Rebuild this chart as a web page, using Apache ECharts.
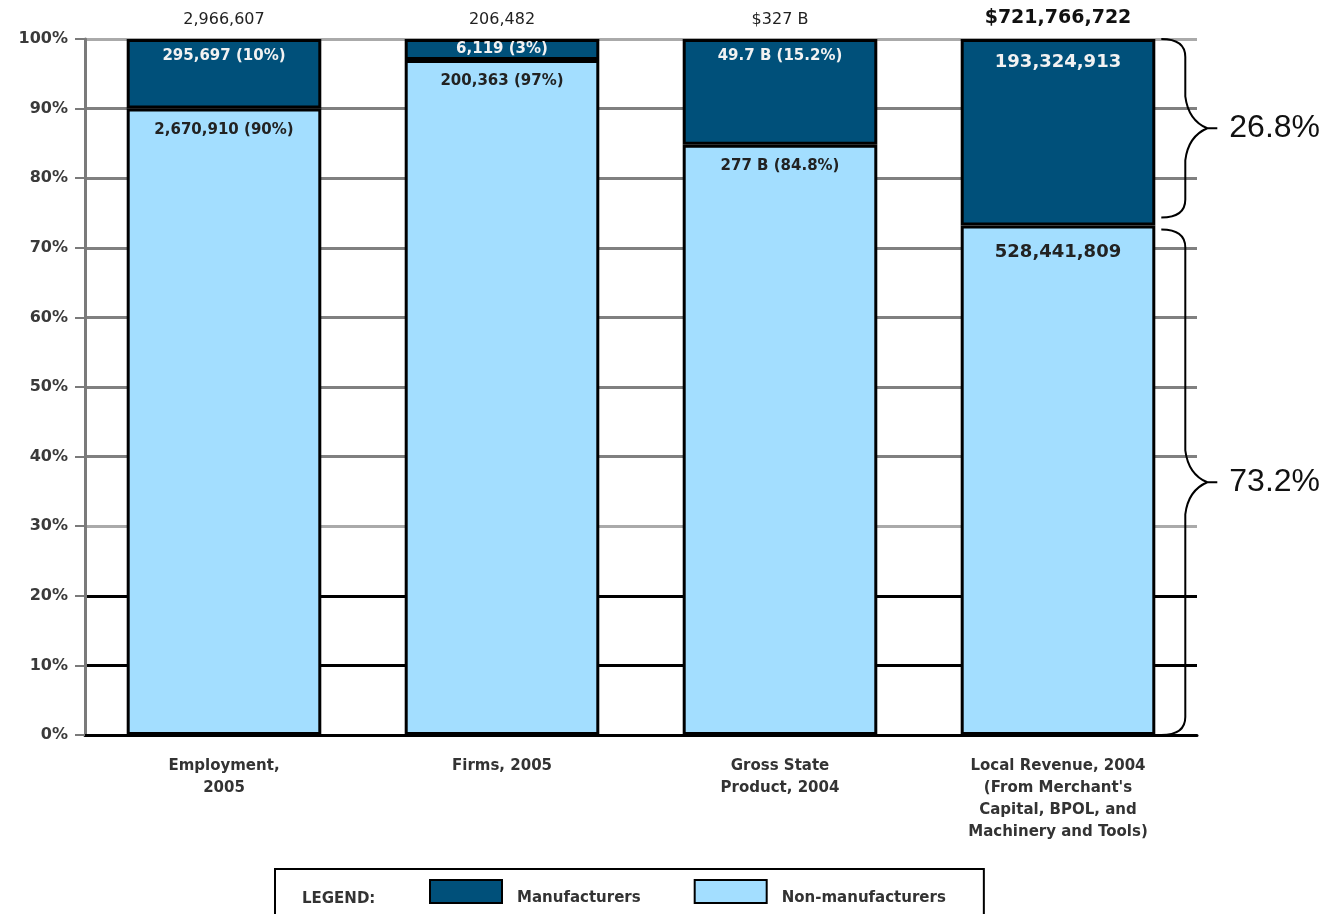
<!DOCTYPE html>
<html>
<head>
<meta charset="utf-8">
<title>Manufacturers vs Non-manufacturers</title>
<script src="https://cdn.jsdelivr.net/npm/echarts@6/dist/echarts.min.js"></script>
<style>
  html, body { margin: 0; padding: 0; background: #fff; }
  #chart { width: 1328px; height: 914px; }
</style>
</head>
<body>
<div id="chart"></div>
<script>
// data
const categories = [
  'Employment,\n2005',
  'Firms, 2005',
  'Gross State\nProduct, 2004',
  "Local Revenue, 2004\n(From Merchant's\nCapital, BPOL, and\nMachinery and Tools)"
];
const totals = ['2,966,607', '206,482', '$327 B', '$721,766,722'];
const mfgShare = [10, 3, 15.2, 26.8];
const nonMfgShare = [90, 97, 84.8, 73.2];
const mfgLabels = ['295,697 (10%)', '6,119 (3%)', '49.7 B (15.2%)', '193,324,913'];
const nonMfgLabels = ['2,670,910 (90%)', '200,363 (97%)', '277 B (84.8%)', '528,441,809'];
const braceRanges = [[100, 73.2], [73.2, 0]];
const braceLabels = ['26.8%', '73.2%'];
const braceCategory = 3;

const FONT = '"DejaVu Sans", sans-serif';
const DARK = '#00507a';
const LIGHT = '#a3deff';
const big = 3; // last column uses larger labels

const chart = echarts.init(document.getElementById('chart'));

const gridColors = ['#000', '#000', '#000', '#aaa', '#808080', '#808080',
  '#808080', '#808080', '#808080', '#808080', '#aaa'];

chart.setOption({
  animation: false,
  grid: { left: 85, right: 131, top: 39, bottom: 179 },
  legend: {
    data: ['Manufacturers', 'Non-manufacturers'],
    selectedMode: false,
    icon: 'rect',
    left: 275,
    top: 869,
    itemWidth: 72,
    itemHeight: 23,
    itemGap: 53,
    padding: [10, 38, 12, 154],
    borderColor: '#000',
    borderWidth: 2,
    itemStyle: { borderColor: '#000', borderWidth: 2 },
    formatter: '{t|{name}}',
    textStyle: {
      rich: {
        t: { fontFamily: FONT, fontWeight: 'bold', fontSize: 15, color: '#333', padding: [14, 0, 0, 10] }
      }
    }
  },
  graphic: [{
    type: 'text',
    left: 302,
    top: 892,
    style: { text: 'LEGEND:', font: 'bold 15px "DejaVu Sans"', fill: '#333' }
  }],
  xAxis: [
    {
      type: 'category',
      data: categories,
      axisLine: { lineStyle: { color: '#000', width: 3 } },
      axisTick: { show: false },
      axisLabel: {
        interval: 0, margin: 20, lineHeight: 22,
        fontFamily: FONT, fontWeight: 'bold', fontSize: 15, color: '#333'
      }
    },
    {
      type: 'category',
      position: 'top',
      data: totals.map((t, i) => i === big
        ? { value: t, textStyle: { fontSize: 19, fontWeight: 'bold', color: '#111' } }
        : t),
      axisLine: { show: false },
      axisTick: { show: false },
      axisLabel: { interval: 0, margin: 11, fontFamily: FONT, fontSize: 16, color: '#222' }
    }
  ],
  yAxis: {
    type: 'value',
    min: 0,
    max: 100,
    interval: 10,
    axisLine: { show: true, lineStyle: { color: '#7a7a7a', width: 3 } },
    axisTick: { show: true, length: 10, lineStyle: { color: '#7a7a7a', width: 2 } },
    axisLabel: {
      formatter: '{value}%', margin: 17,
      fontFamily: FONT, fontWeight: 'bold', fontSize: 16, color: '#3a3a3a'
    },
    splitLine: { lineStyle: { color: gridColors, width: 3 } }
  },
  series: [
    {
      name: 'Non-manufacturers',
      type: 'bar',
      stack: 'total',
      barWidth: '70%',
      itemStyle: { color: LIGHT, borderColor: '#000', borderWidth: 3 },
      label: {
        show: true, position: 'insideTop', distance: 14,
        fontFamily: FONT, fontWeight: 'bold', fontSize: 15, color: '#222',
        formatter: p => nonMfgLabels[p.dataIndex]
      },
      data: nonMfgShare.map((v, i) => i === big
        ? { value: v, label: { fontSize: 18, distance: 18 } }
        : v)
    },
    {
      name: 'Manufacturers',
      type: 'bar',
      stack: 'total',
      barWidth: '70%',
      itemStyle: { color: DARK, borderColor: '#000', borderWidth: 3 },
      label: {
        show: true, position: 'insideTop', distance: 10,
        fontFamily: FONT, fontWeight: 'bold', fontSize: 15, color: '#f2f2f2',
        formatter: p => mfgLabels[p.dataIndex]
      },
      data: mfgShare.map((v, i) => {
        if (i === big) return { value: v, label: { fontSize: 18, distance: 14 } };
        if (v < 5) return { value: v, label: { position: 'inside' } };
        return v;
      })
    },
    {
      name: 'braces',
      type: 'custom',
      silent: true,
      clip: false,
      z: 10,
      data: braceRanges.map(r => [braceCategory, r[0], r[1]]),
      renderItem: (params, api) => {
        const top = api.coord([api.value(0), api.value(1)]);
        const bot = api.coord([api.value(0), api.value(2)]);
        const half = api.size([1, 0])[0] * 0.35;
        const first = params.dataIndex === 0;
        const xs = top[0] + half + 6;
        const xv = top[0] + half + 30;
        const xt = xv + 22;
        const y0 = top[1] + (first ? 0 : 4);
        const y1 = bot[1] - (first ? 8 : 0);
        const ym = (y0 + y1) / 2;
        const r = 18, c = 32;
        const d = `M${xs},${y0} Q${xv},${y0} ${xv},${y0 + r} L${xv},${ym - c} ` +
          `Q${xv + 3},${ym - 8} ${xt},${ym} Q${xv + 3},${ym + 8} ${xv},${ym + c} ` +
          `L${xv},${y1 - r} Q${xv},${y1} ${xs},${y1} M${xt},${ym} L${xt + 10},${ym}`;
        return {
          type: 'group',
          children: [
            {
              type: 'path',
              shape: { pathData: d },
              style: { fill: 'none', stroke: '#000', lineWidth: 2 }
            },
            {
              type: 'text',
              x: xt + 22,
              y: ym,
              style: {
                text: braceLabels[params.dataIndex],
                font: '32px "Liberation Sans"',
                fill: '#111',
                verticalAlign: 'middle',
                align: 'left'
              }
            }
          ]
        };
      }
    }
  ]
});
</script>
</body>
</html>
